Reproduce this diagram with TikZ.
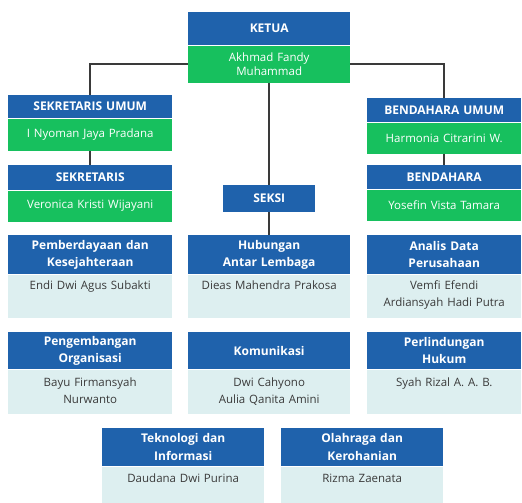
\documentclass[tikz,border=0pt]{standalone}
\usepackage{fontspec}
\setmainfont{Open Sans}
\usetikzlibrary{positioning}
\definecolor{headblue}{HTML}{1F62AC}
\definecolor{namegreen}{HTML}{17C05E}
\definecolor{namelight}{HTML}{DDEFF0}
\definecolor{linkgray}{HTML}{3A3A3A}

\begin{document}
\begin{tikzpicture}[
  x=1pt, y=-1pt,
  head/.style={fill=headblue, text=white, font=\bfseries\fontsize{12}{17.5}\selectfont, align=center, inner sep=0pt, anchor=north west},
  greenbox/.style={fill=namegreen, text=white, font=\fontsize{11.5}{13.5}\selectfont, align=center, inner sep=0pt},
  lightbox/.style={fill=namelight, text=linkgray, font=\fontsize{11.5}{17}\selectfont, align=center, inner sep=0pt},
  colL/.style={text width=164pt, minimum width=164pt},
  colM/.style={text width=162pt, minimum width=162pt},
  colR/.style={text width=154pt, minimum width=154pt},
  link/.style={draw=linkgray, line width=1.5pt}
]
\fill[white] (0,0) rectangle (522,503);
\useasboundingbox (0,0) rectangle (522,503);

% pimpinan
\node[head, colM, minimum height=33] (ketua) at (188,12) {KETUA};
\node[greenbox, colM, minimum height=37, below=0pt of ketua] (ketuan) {Akhmad Fandy\\Muhammad};
\node[head, colL, minimum height=23] (sekum) at (8,95) {SEKRETARIS UMUM};
\node[greenbox, colL, minimum height=32, below=0pt of sekum] (sekumn) {I Nyoman Jaya Pradana};
\node[head, colL, minimum height=25] (sek) at (8,165) {SEKRETARIS};
\node[greenbox, colL, minimum height=31, below=0pt of sek] (sekn) {Veronica Kristi Wijayani};
\node[head, colR, minimum height=24] (benum) at (367,98) {BENDAHARA UMUM};
\node[greenbox, colR, minimum height=31, below=0pt of benum] (benumn) {Harmonia Citrarini W.};
\node[head, colR, minimum height=24] (ben) at (367,165) {BENDAHARA};
\node[greenbox, colR, minimum height=31, below=0pt of ben] (benn) {Yosefin Vista Tamara};
\node[head, text width=92pt, minimum width=92pt, minimum height=27] (seksi) at (223,185) {SEKSI};

% seksi baris 1
\node[head, colL, minimum height=39] (pk) at (8,235) {Pemberdayaan dan\\Kesejahteraan};
\node[lightbox, colL, text height=15pt, text depth=28pt, below=0pt of pk] (pkn) {Endi Dwi Agus Subakti};
\node[head, colM, minimum height=39] (hub) at (188,235) {Hubungan\\Antar Lembaga};
\node[lightbox, colM, text height=15pt, text depth=28pt, below=0pt of hub] (hubn) {Dieas Mahendra Prakosa};
\node[head, colR, minimum height=39] (adp) at (367,235) {Analis Data\\Perusahaan};
\node[lightbox, colR, text height=15pt, text depth=28pt, below=0pt of adp] (adpn) {Vemfi Efendi\\Ardiansyah Hadi Putra};

% seksi baris 2
\node[head, colL, minimum height=37] (po) at (8,332) {Pengembangan\\Organisasi};
\node[lightbox, colL, text height=17pt, text depth=27pt, below=0pt of po] (pon) {Bayu Firmansyah\\Nurwanto};
\node[head, colM, minimum height=37] (kom) at (188,332) {Komunikasi};
\node[lightbox, colM, text height=17pt, text depth=27pt, below=0pt of kom] (komn) {Dwi Cahyono\\Aulia Qanita Amini};
\node[head, colR, minimum height=37] (ph) at (367,332) {Perlindungan\\Hukum};
\node[lightbox, colR, text height=17pt, text depth=27pt, below=0pt of ph] (phn) {Syah Rizal A. A. B.};

% seksi baris 3
\node[head, colM, minimum height=38] (ti) at (102,428) {Teknologi dan\\Informasi};
\node[lightbox, colM, text height=16pt, text depth=21pt, below=0pt of ti] (tin) {Daudana Dwi Purina};
\node[head, colM, minimum height=38] (ok) at (281,428) {Olahraga dan\\Kerohanian};
\node[lightbox, colM, text height=16pt, text depth=21pt, below=0pt of ok] (okn) {Rizma Zaenata};

\draw[link] (ketuan.west) -| (sekum.north);
\draw[link] (ketuan.east) -| (benum.north);
\draw[link] (ketuan.south) -- (seksi.north);
\draw[link] (seksi.south) -- (hub.north);
\draw[link] (sekumn.south) -- (sek.north);
\draw[link] (benumn.south) -- (ben.north);
\end{tikzpicture}
\end{document}
